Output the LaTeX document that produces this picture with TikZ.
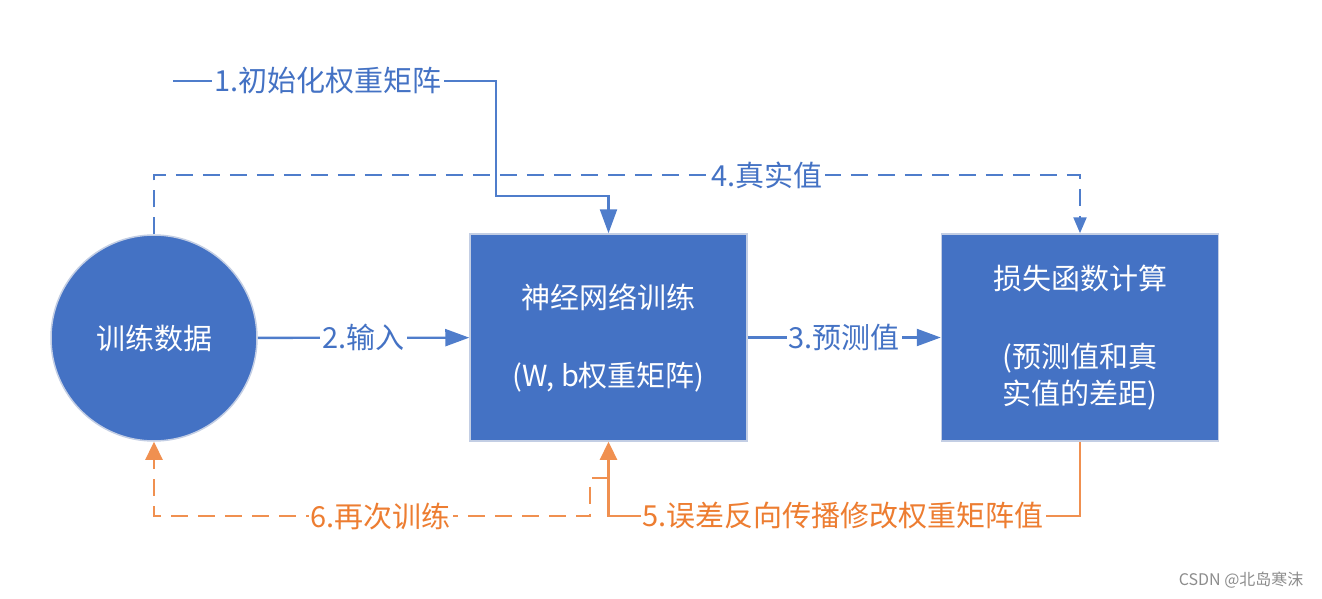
\documentclass[tikz,border=0pt]{standalone}
\usepackage{fontspec}
\setmainfont{Noto Sans CJK SC}
\usetikzlibrary{arrows.meta}
\definecolor{bl}{HTML}{4472C4}
\definecolor{blline}{HTML}{4F7DCB}
\definecolor{og}{HTML}{ED7D31}
\definecolor{edge}{HTML}{C3CEE4}
\begin{document}
\begin{tikzpicture}[x=1pt,y=-1pt,
  shapefill/.style={fill=bl, draw=edge, line width=1.5pt, text=white, font=\fontsize{29}{39}\selectfont, align=center, inner sep=0pt},
  boxnode/.style={shapefill, rectangle, minimum width=277, minimum height=207},
  bline/.style={draw=blline, line width=2.3pt},
  oline/.style={draw=og!85!white, line width=2.3pt},
  dsh/.style={dash pattern=on 17pt off 10pt},
  blbl/.style={fill=white, text=bl, font=\fontsize{29}{34}\selectfont, inner sep=2pt},
  olbl/.style={fill=white, text=og, font=\fontsize{29}{34}\selectfont, inner sep=2pt},
  bigtip/.style={-{Triangle[width=17pt,length=24pt]}},
  otip/.style={-{Triangle[width=17pt,length=18pt]}},
  smalltip/.style={-{Triangle[width=13pt,length=16pt]}}
]
\useasboundingbox (0,0) rectangle (1322,599);

\node[shapefill, circle, minimum size=206] (data) at (154,338) {训练数据};
\node[boxnode] (nn) at (608.5,337.5) {神经网络训练\\[39pt](W, b权重矩阵)};
\node[boxnode] (loss) at (1080,337.5) {损失函数计算\\[39pt](预测值和真\\[-2pt]实值的差距)};

% 1
\coordinate (s1) at (173,81);
\draw[bline, bigtip] (s1) -- node[blbl, pos=0.48] {1.初始化权重矩阵} (496,81) -- (496,196) -- (nn.north |- 0,196) -- (nn.north);

% 4
\draw[bline, dsh, smalltip] (data.north) -- (154,175) -- node[blbl, pos=0.662] {4.真实值} (1080,175) -- (loss.north);

% 2, 3
\draw[bline, bigtip] (data) -- node[blbl] {2.输入} (nn);
\draw[bline, bigtip] (nn) -- node[blbl] {3.预测值} (loss);

% 5
\draw[oline, otip] (loss.south) -- (1080,516) -- node[olbl, pos=0.502] {5.误差反向传播修改权重矩阵值} (nn.south |- 0,516) -- (nn.south);

% 6
\coordinate (s6) at (608.5,478);
\draw[oline, dsh, otip] (s6) -- (590,478) -- (590,516) -- node[olbl, pos=0.48] {6.再次训练} (154,516) -- (data.south);

\node[text=black!45, font=\fontsize{16}{18}\selectfont, anchor=east] (wm) at (1307,580) {CSDN @北岛寒沫};
\end{tikzpicture}
\end{document}
